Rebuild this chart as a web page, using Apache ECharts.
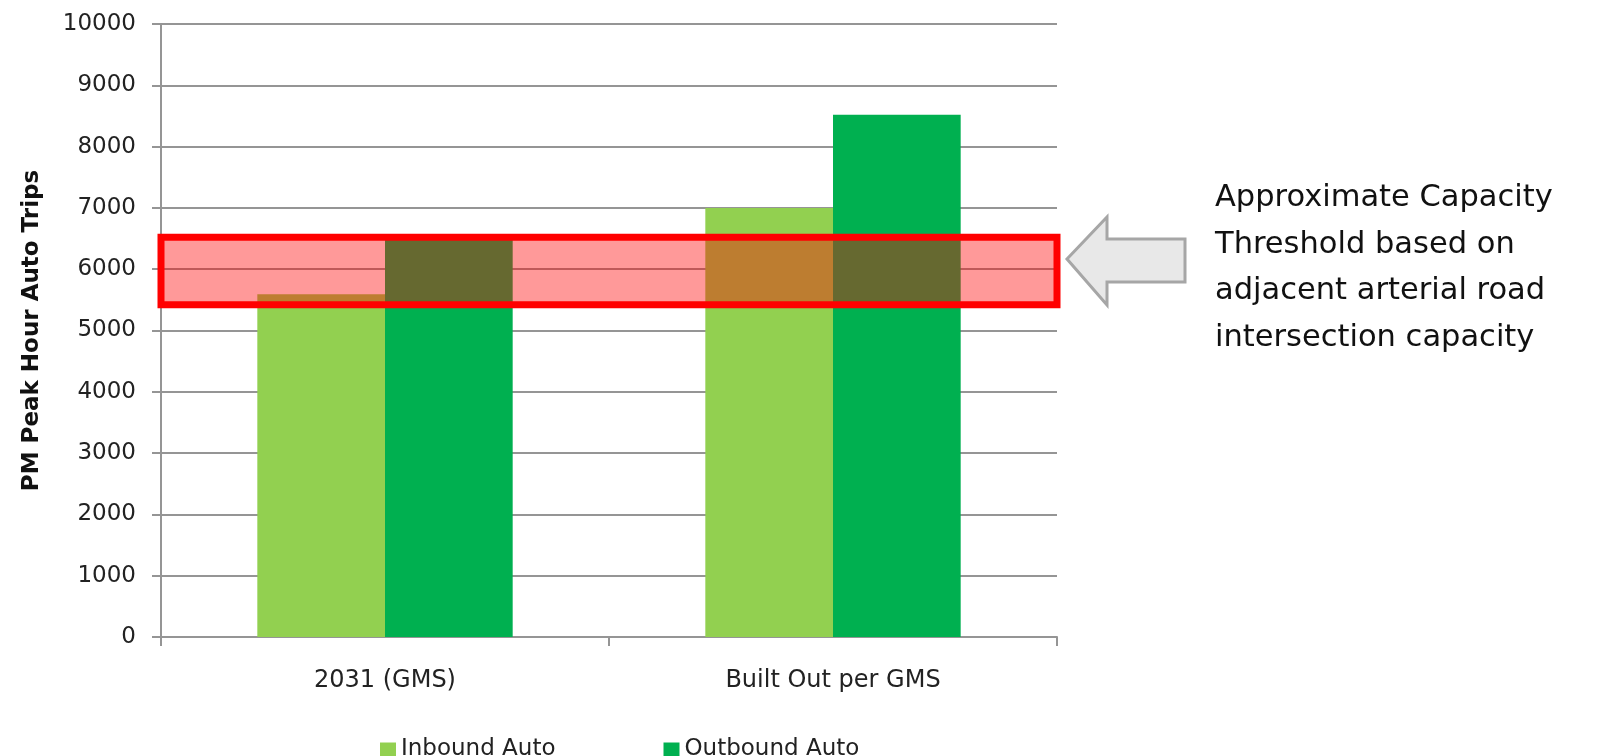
<!DOCTYPE html>
<html>
<head>
<meta charset="utf-8">
<title>PM Peak Hour Auto Trips</title>
<script src="https://cdn.jsdelivr.net/npm/echarts@6/dist/echarts.min.js"></script>
<style>
  html, body { margin: 0; padding: 0; background: #fff; }
  #chart { width: 1597px; height: 756px; }
</style>
</head>
<body>
<div id="chart"></div>
<script>
// categories and values
var categories = ['2031 (GMS)', 'Built Out per GMS'];
var seriesNames = ['Inbound Auto', 'Outbound Auto'];
var inboundTrips = [5590, 7000];
var outboundTrips = [6500, 8520];
// approximate capacity threshold band (low, high)
var capacityBand = [5420, 6520];
var yMin = 0, yMax = 10000, yStep = 1000;
var noteLines = [
  'Approximate Capacity',
  'Threshold based on',
  'adjacent arterial road',
  'intersection capacity'
];

var FONT = 'DejaVu Sans';
var GRID_LINE = '#959595';

var chart = echarts.init(document.getElementById('chart'));

var option = {
  backgroundColor: '#fff',
  animation: false,
  textStyle: { fontFamily: FONT },
  grid: {
    left: 161,
    right: 540,
    top: 24,
    bottom: 119
  },
  legend: {
    data: seriesNames,
    left: 375,
    top: 733,
    icon: 'rect',
    itemWidth: 16,
    itemHeight: 14,
    itemGap: 108,
    textStyle: { fontFamily: FONT, fontSize: 23, color: '#222' }
  },
  xAxis: {
    type: 'category',
    data: categories,
    axisLine: { lineStyle: { color: GRID_LINE, width: 2 } },
    axisTick: { show: true, length: 9, lineStyle: { color: GRID_LINE, width: 2 } },
    axisLabel: { margin: 32, fontFamily: FONT, fontSize: 24, color: '#222' }
  },
  yAxis: {
    type: 'value',
    min: yMin,
    max: yMax,
    interval: yStep,
    name: 'PM Peak Hour Auto Trips',
    nameLocation: 'middle',
    nameRotate: 90,
    nameGap: 117,
    nameTextStyle: { fontFamily: FONT, fontSize: 23, fontWeight: 'bold', color: '#111' },
    axisLine: { show: true, lineStyle: { color: GRID_LINE, width: 2 } },
    axisTick: { show: true, length: 9, lineStyle: { color: GRID_LINE, width: 2 } },
    axisLabel: {
      margin: 25,
      fontFamily: FONT,
      fontSize: 23,
      color: '#222',
      formatter: function (v) { return String(v); }
    },
    splitLine: { lineStyle: { color: GRID_LINE, width: 2 } }
  },
  series: [
    {
      name: seriesNames[0],
      type: 'bar',
      data: inboundTrips,
      barGap: '0%',
      barCategoryGap: '43%',
      itemStyle: { color: '#92D050' }
    },
    {
      name: seriesNames[1],
      type: 'bar',
      data: outboundTrips,
      itemStyle: { color: '#00B050' },
      markArea: {
        silent: true,
        z: 10,
        itemStyle: {
          color: 'rgba(255, 0, 0, 0.4)',
          borderColor: '#FF0000',
          borderWidth: 7
        },
        data: [[{ yAxis: capacityBand[0] }, { yAxis: capacityBand[1] }]]
      }
    }
  ],
  graphic: [
    {
      // arrow pointing at the band
      type: 'polygon',
      shape: {
        points: [
          [1067, 259], [1107, 217], [1107, 239], [1185, 239],
          [1185, 282], [1107, 282], [1107, 305]
        ]
      },
      style: { fill: '#e8e8e8', stroke: '#a6a6a6', lineWidth: 3 }
    },
    {
      type: 'text',
      left: 1215,
      top: 175,
      style: {
        text: noteLines.join('\n'),
        font: '30.5px "DejaVu Sans"',
        lineHeight: 46.5,
        fill: '#111'
      }
    }
  ]
};

chart.setOption(option);
</script>
</body>
</html>
